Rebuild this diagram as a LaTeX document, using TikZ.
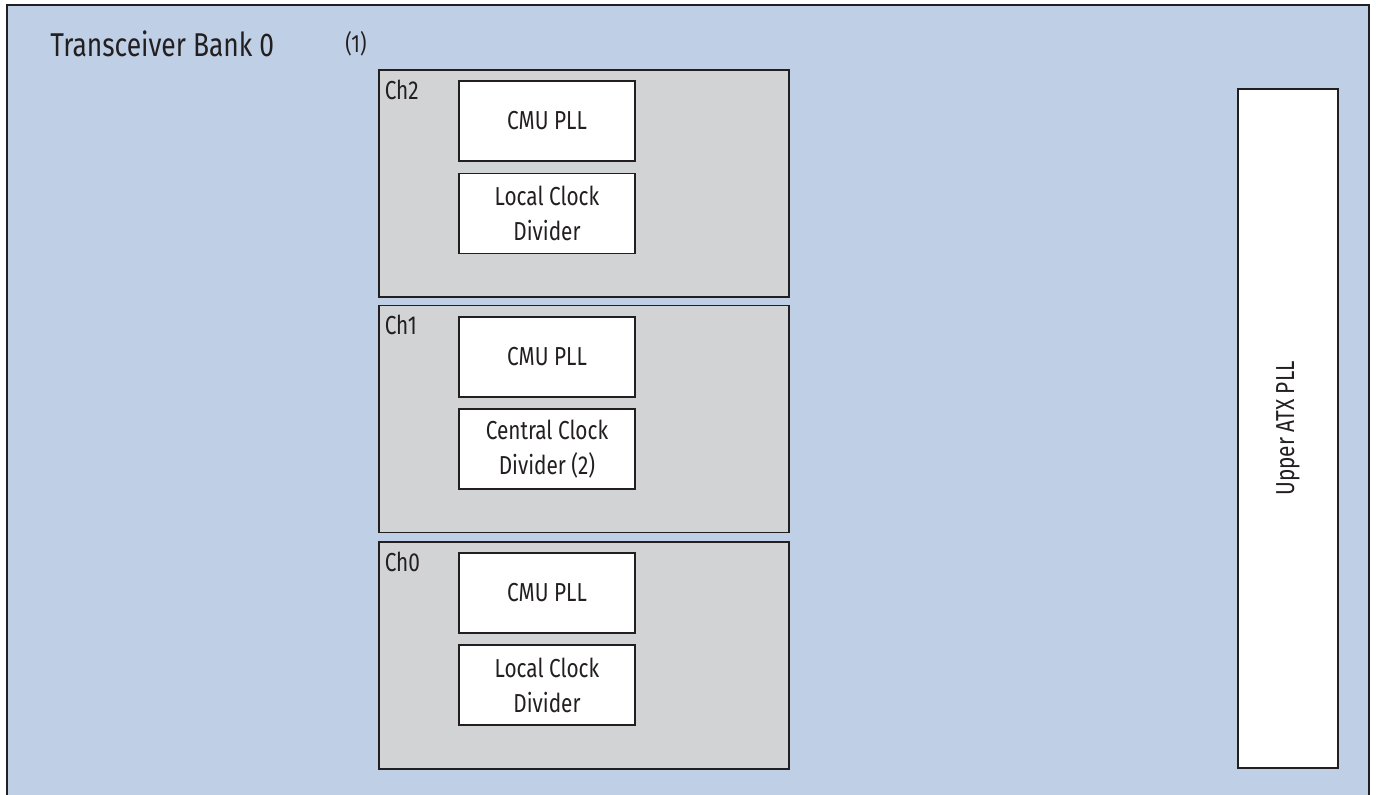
\documentclass[tikz,border=0pt]{standalone}
\usepackage{fontspec}
\setmainfont{Fira Sans}[FakeStretch=0.8]
\definecolor{bankblue}{HTML}{BFCFE5}
\definecolor{chgray}{HTML}{D1D3D4}
\definecolor{edgegray}{HTML}{231F20}

\begin{document}
\begin{tikzpicture}[
    x=0.5pt, y=-0.5pt,
    every node/.style={text=edgegray},
    chbox/.style={rectangle, draw=edgegray, line width=0.6pt, fill=chgray, minimum width=205pt, minimum height=113.5pt, inner sep=0pt},
    block/.style={rectangle, draw=edgegray, line width=0.6pt, fill=white, minimum width=88pt, minimum height=40pt, align=center, inner sep=0pt, font=\fontsize{13}{17.5}\selectfont},
    chname/.style={anchor=north west, inner sep=0pt, xshift=3pt, yshift=-5pt, font=\fontsize{13}{15}\selectfont}
]

\useasboundingbox (0,0) rectangle (1376,795);

% Bank frame
\begin{scope}
\clip (0,0) rectangle (1376,795);
\draw[draw=edgegray, fill=bankblue, line width=1pt] (7,5) rectangle (1369,830);
\end{scope}

% Titel
\node[anchor=west, inner sep=0pt, font=\fontsize{16.5}{18}\selectfont] (title) at (50,44) {Transceiver Bank 0};
\node[inner sep=0pt, font=\fontsize{12.5}{14}\selectfont] (note1) at (356,44) {(1)};

% Kanäle
\node[chbox] (ch2) at (584,183.5) {};
\node[chbox] (ch1) at (584,419) {};
\node[chbox] (ch0) at (584,655.5) {};

\node[chname] (ch2name) at (ch2.north west) {Ch2};
\node[chname] (ch1name) at (ch1.north west) {Ch1};
\node[chname] (ch0name) at (ch0.north west) {Ch0};

% Blöcke
\node[block] (cmu2) at (547,121) {CMU PLL};
\node[block] (lcd2) at (547,213.5) {Local Clock\\Divider};
\node[block] (cmu1) at (547,357) {CMU PLL};
\node[block] (ccd1) at (547,449) {Central Clock\\Divider (2)};
\node[block] (cmu0) at (547,593) {CMU PLL};
\node[block] (lcd0) at (547,685) {Local Clock\\Divider};

% ATX PLL
\node[block, minimum width=50pt, minimum height=339.5pt] (atx) at (1288,428.5) {};
\node[rotate=90, inner sep=0pt, font=\fontsize{13}{15}\selectfont] (atxname) at (atx.center) {Upper ATX PLL};

\end{tikzpicture}
\end{document}
